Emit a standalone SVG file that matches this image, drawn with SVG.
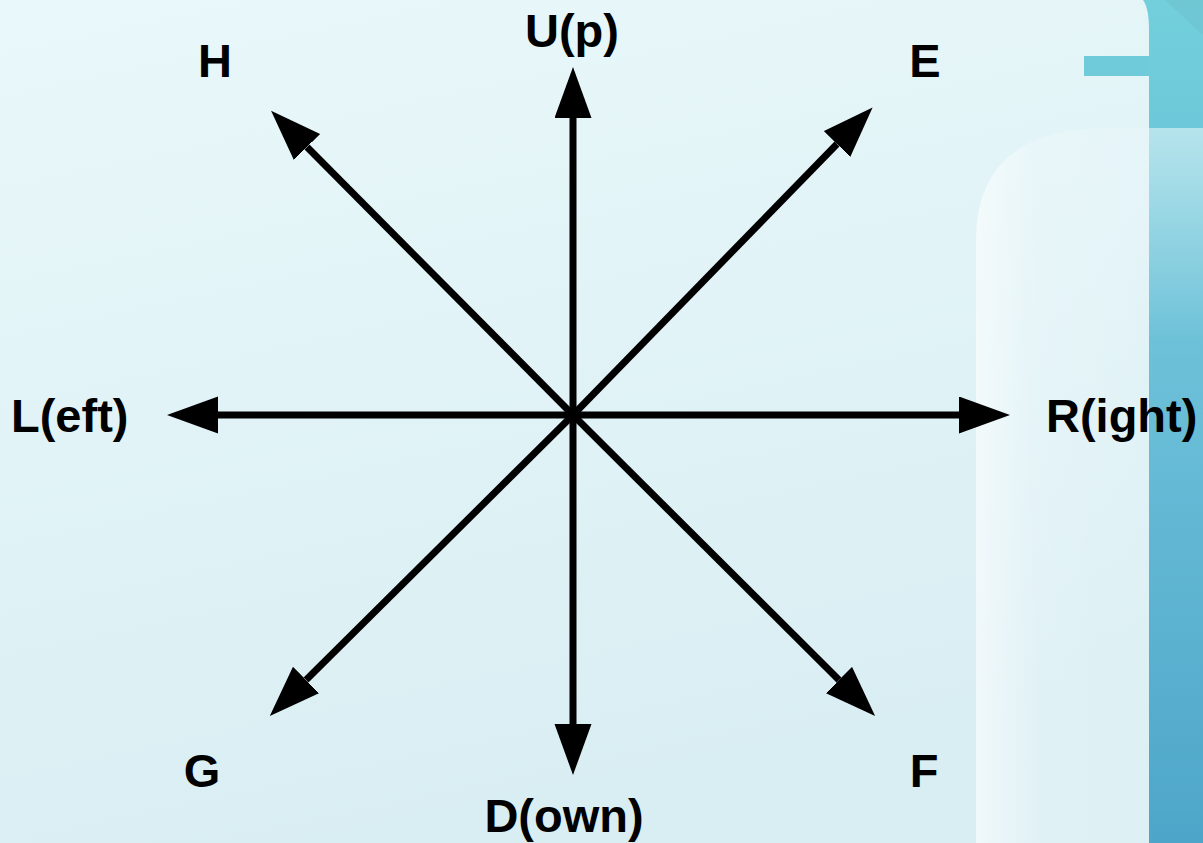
<svg xmlns="http://www.w3.org/2000/svg" width="1203" height="843" viewBox="0 0 1203 843">
  <defs>
    <linearGradient id="bg" x1="0" y1="0" x2="0.3" y2="1">
      <stop offset="0" stop-color="#e9f8fa"/>
      <stop offset="1" stop-color="#d9eef3"/>
    </linearGradient>
    <linearGradient id="band" x1="0" y1="0" x2="0" y2="1">
      <stop offset="0" stop-color="#72cfdb"/>
      <stop offset="0.5" stop-color="#62bad5"/>
      <stop offset="1" stop-color="#4da6c9"/>
    </linearGradient>
    <linearGradient id="panelH" x1="0" y1="0" x2="1" y2="0">
      <stop offset="0" stop-color="#ffffff" stop-opacity="0.6"/>
      <stop offset="0.35" stop-color="#ffffff" stop-opacity="0.2"/>
      <stop offset="1" stop-color="#ffffff" stop-opacity="0.1"/>
    </linearGradient>
    <linearGradient id="panelV" x1="0" y1="0" x2="0" y2="1">
      <stop offset="0" stop-color="#ffffff" stop-opacity="0.5"/>
      <stop offset="0.3" stop-color="#ffffff" stop-opacity="0.05"/>
      <stop offset="1" stop-color="#ffffff" stop-opacity="0"/>
    </linearGradient>
    <marker id="ah" markerUnits="userSpaceOnUse" markerWidth="52" markerHeight="38" refX="0" refY="18.5" orient="auto">
      <path d="M0,0 L51,18.5 L0,37 Z" fill="#000"/>
    </marker>
    <style>
      .lbl { font-family: "Liberation Sans", Arial, sans-serif; font-weight: bold; font-size: 47px; fill: #000; }
      .arr { stroke: #000; stroke-width: 7; fill: none; marker-end: url(#ah); }
    </style>
  </defs>

  <g id="background">
    <rect x="0" y="0" width="1203" height="843" fill="url(#bg)"/>
    <path d="M1143,0 Q1149,8 1149,30 L1149,843 L1203,843 L1203,0 Z" fill="url(#band)"/>
    <path d="M1203,0 L1165,0 L1203,35 Z" fill="#6ec2cf" opacity="0.6"/>
    <rect x="1084" y="56" width="65" height="20" fill="#6fcbd9"/>
    <path d="M976,843 L976,240 Q976,128 1110,128 L1149,128 L1149,843 Z" fill="url(#panelH)"/>
    <path d="M1149,128 L1203,128 L1203,843 L1149,843 Z" fill="url(#panelV)"/>
  </g>

  <g id="connectors">
    <line class="arr" x1="573" y1="415" x2="573" y2="118"/>
    <line class="arr" x1="573" y1="415" x2="573" y2="724"/>
    <line class="arr" x1="573" y1="415" x2="218" y2="415"/>
    <line class="arr" x1="573" y1="415" x2="959" y2="415"/>
    <line class="arr" x1="573" y1="415" x2="837" y2="144"/>
    <line class="arr" x1="573" y1="415" x2="307" y2="147"/>
    <line class="arr" x1="573" y1="415" x2="306" y2="680"/>
    <line class="arr" x1="573" y1="415" x2="839" y2="680"/>
  </g>

  <g id="node-up"><text class="lbl" x="572" y="47" text-anchor="middle">U(p)</text></g>
  <g id="node-down"><text class="lbl" x="564" y="832" text-anchor="middle">D(own)</text></g>
  <g id="node-left"><text class="lbl" x="11" y="432">L(eft)</text></g>
  <g id="node-right"><text class="lbl" x="1046" y="432">R(ight)</text></g>
  <g id="node-e"><text class="lbl" x="925" y="77" text-anchor="middle">E</text></g>
  <g id="node-h"><text class="lbl" x="215" y="77" text-anchor="middle">H</text></g>
  <g id="node-g"><text class="lbl" x="202" y="787" text-anchor="middle">G</text></g>
  <g id="node-f"><text class="lbl" x="924" y="787" text-anchor="middle">F</text></g>
</svg>
